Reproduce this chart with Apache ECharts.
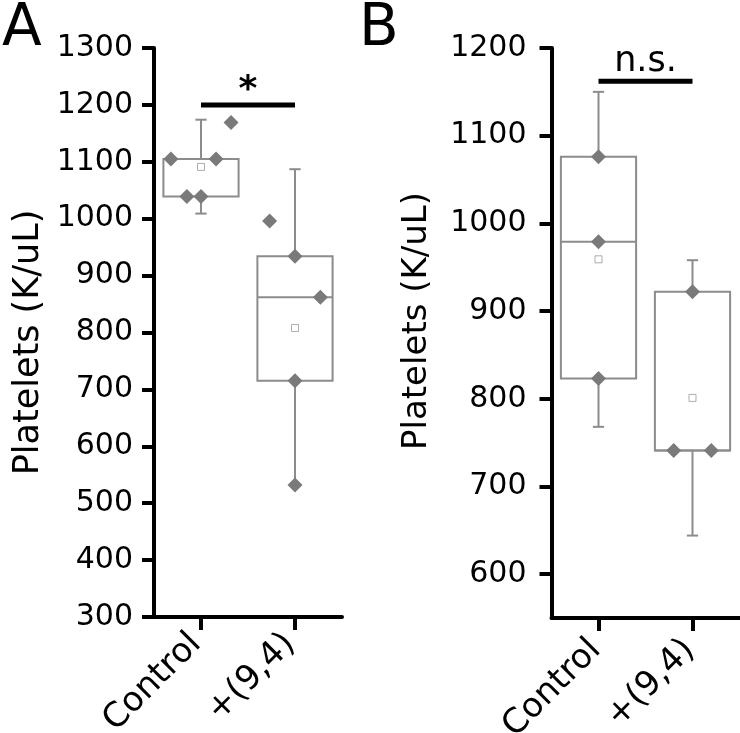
<!DOCTYPE html>
<html><head><meta charset="utf-8">
<script src="https://cdn.jsdelivr.net/npm/echarts@6/dist/echarts.min.js"></script>
<style>html,body{margin:0;padding:0;background:#fff}#c{width:740px;height:733px}</style>
</head><body><div id="c"></div>
<script>
// ---------- data ----------
const categories = ['Control', '+(9,4)'];

// Panel A: box statistics [whiskerLow, Q1, median, Q3, whiskerHigh]
const boxStatsA = [
  [1009, 1039, 1105, 1105, 1174],
  [532, 715, 862, 934, 1087]
];
const meansA = [1091, 808];
const controlPointsA = [1105, 1105, 1039, 1039, 1169];
const controlJitterA = [-0.32, 0.16, -0.15, 0, 0.32];
const treatedPointsA = [996, 934, 862, 715, 532];
const treatedJitterA = [-0.27, 0, 0.27, 0, 0];
const sigLevelA = 1200;
const sigTextA = '*';
const yTicksA = [300, 400, 500, 600, 700, 800, 900, 1000, 1100, 1200, 1300];

// Panel B
const boxStatsB = [
  [768, 823, 979, 1076, 1150],
  [644, 741, 741, 922, 958]
];
const meansB = [959, 801];
const controlPointsB = [1076, 979, 823];
const controlJitterB = [0, 0, 0];
const treatedPointsB = [922, 741, 741];
const treatedJitterB = [0, -0.2, 0.2];
const sigLevelB = 1162;
const sigTextB = 'n.s.';
const yTicksB = [600, 700, 800, 900, 1000, 1100, 1200];

const yTitle = 'Platelets (K/uL)';
const panelLetters = ['A', 'B'];

// ---------- styling ----------
const FONT = 'DejaVu Sans';
const BOX_COLOR = '#8c8c8c';
const PT_COLOR = '#7a7a7a';

function boxData(stats) {
  return stats.map((s, i) => [i].concat(s));
}
function pointData(pts, jit, cat) {
  return pts.map((v, i) => [cat, v, jit[i]]);
}

function renderBox(params, api) {
  const x = api.value(0);
  const lo = api.coord([x, api.value(1)]);
  const q1 = api.coord([x, api.value(2)]);
  const med = api.coord([x, api.value(3)]);
  const q3 = api.coord([x, api.value(4)]);
  const hi = api.coord([x, api.value(5)]);
  const band = api.size([1, 0])[0];
  const bw = band * 0.8;
  const cw = band * 0.12;
  const cx = q1[0];
  const st = { stroke: BOX_COLOR, lineWidth: 2, fill: null };
  return {
    type: 'group',
    children: [
      { type: 'line', shape: { x1: cx, y1: q3[1], x2: cx, y2: hi[1] }, style: st },
      { type: 'line', shape: { x1: cx - cw / 2, y1: hi[1], x2: cx + cw / 2, y2: hi[1] }, style: st },
      { type: 'line', shape: { x1: cx, y1: q1[1], x2: cx, y2: lo[1] }, style: st },
      { type: 'line', shape: { x1: cx - cw / 2, y1: lo[1], x2: cx + cw / 2, y2: lo[1] }, style: st },
      { type: 'rect', shape: { x: cx - bw / 2, y: q3[1], width: bw, height: q1[1] - q3[1] }, style: { stroke: BOX_COLOR, lineWidth: 2, fill: 'rgba(0,0,0,0)' } },
      { type: 'line', shape: { x1: cx - bw / 2, y1: med[1], x2: cx + bw / 2, y2: med[1] }, style: st }
    ]
  };
}

function renderPoint(params, api) {
  const c = api.coord([api.value(0), api.value(1)]);
  const band = api.size([1, 0])[0];
  const x = c[0] + api.value(2) * band;
  const r = 7.5;
  return {
    type: 'polygon',
    shape: { points: [[x, c[1] - r], [x + r, c[1]], [x, c[1] + r], [x - r, c[1]]] },
    style: { fill: PT_COLOR }
  };
}

function makeSig(idx, level, text, fontSize, offset) {
  return {
    type: 'custom', xAxisIndex: idx, yAxisIndex: idx, z: 5,
    data: [[0, level]],
    renderItem: function (params, api) {
      const p0 = api.coord([0, api.value(1)]);
      const p1 = api.coord([1, api.value(1)]);
      return {
        type: 'group',
        children: [
          { type: 'line', shape: { x1: p0[0], y1: p0[1], x2: p1[0], y2: p1[1] }, style: { stroke: '#000', lineWidth: 5 } },
          { type: 'text', style: { text: text, x: (p0[0] + p1[0]) / 2, y: p0[1] - offset, fill: '#000', fontFamily: FONT, fontSize: fontSize, fontWeight: text === '*' ? 'bold' : 'normal', align: 'center', verticalAlign: 'middle' } }
        ]
      };
    }
  };
}

function yAxis(idx, min, max, interval, ticks, margin, nameGap, nameSize, namePad) {
  return {
    gridIndex: idx, type: 'value', min: min, max: max, interval: interval,
    name: yTitle, nameLocation: 'middle', nameGap: nameGap, nameRotate: 90,
    nameTextStyle: { fontFamily: FONT, fontSize: nameSize, color: '#000', padding: namePad },
    axisLine: { show: true, lineStyle: { color: '#000', width: 4 } },
    axisTick: { show: true, length: 12, lineStyle: { color: '#000', width: 4 }, customValues: ticks },
    axisLabel: { fontFamily: FONT, fontSize: 30, color: '#000', margin: margin, customValues: ticks,
      formatter: function (v) { return String(v); } },
    splitLine: { show: false }
  };
}
function xAxis(idx, margin, pad) {
  return {
    gridIndex: idx, type: 'category', data: categories, boundaryGap: true,
    axisLine: { show: true, lineStyle: { color: '#000', width: 4 } },
    axisTick: { show: true, alignWithLabel: true, length: 13, lineStyle: { color: '#000', width: 4 } },
    axisLabel: { fontFamily: FONT, fontSize: 34, color: '#000', rotate: 45, margin: margin, interval: 0, padding: [0, pad, 0, 0] },
    splitLine: { show: false }
  };
}

function panelSeries(idx, stats, means, cPts, cJit, tPts, tJit) {
  return [
    { type: 'custom', xAxisIndex: idx, yAxisIndex: idx, z: 2, renderItem: renderBox, data: boxData(stats) },
    { type: 'scatter', xAxisIndex: idx, yAxisIndex: idx, z: 3, symbol: 'rect', symbolSize: 7,
      itemStyle: { color: '#fff', borderColor: '#999', borderWidth: 1 },
      data: means.map((m, i) => [i, m]) },
    { type: 'custom', xAxisIndex: idx, yAxisIndex: idx, z: 4, renderItem: renderPoint,
      data: pointData(cPts, cJit, 0).concat(pointData(tPts, tJit, 1)) }
  ];
}

const chart = echarts.init(document.getElementById('c'));
chart.setOption({
  animation: false,
  backgroundColor: '#fff',
  title: [
    { text: panelLetters[0], left: -3, top: -4, textStyle: { fontFamily: FONT, fontSize: 58, fontWeight: 'normal', color: '#000' } },
    { text: panelLetters[1], left: 354, top: -4, textStyle: { fontFamily: FONT, fontSize: 58, fontWeight: 'normal', color: '#000' } }
  ],
  grid: [
    { left: 154, top: 48, width: 188, height: 569, outerBoundsMode: 'none', containLabel: false },
    { left: 551.5, top: 48, width: 188, height: 570, outerBoundsMode: 'none', containLabel: false }
  ],
  xAxis: [xAxis(0, 17, 7), xAxis(1, 24, 4)],
  yAxis: [
    yAxis(0, 300, 1300, 100, yTicksA, 21, 108, 35, [0, 20, 0, 0]),
    yAxis(1, 550, 1200, 50, yTicksB, 25, 117, 34, [0, 0, 0, 24])
  ],
  series: []
    .concat(panelSeries(0, boxStatsA, meansA, controlPointsA, controlJitterA, treatedPointsA, treatedJitterA))
    .concat(panelSeries(1, boxStatsB, meansB, controlPointsB, controlJitterB, treatedPointsB, treatedJitterB))
    .concat([makeSig(0, sigLevelA, sigTextA, 36, 14), makeSig(1, sigLevelB, sigTextB, 35, 19)])
});
</script></body></html>
